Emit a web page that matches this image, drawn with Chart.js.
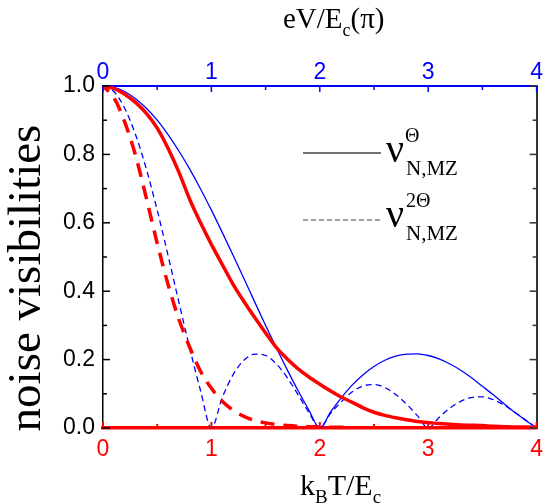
<!DOCTYPE html>
<html>
<head>
<meta charset="utf-8">
<script src="https://cdn.jsdelivr.net/npm/chart.js@4"></script>
<style>
  html, body { margin: 0; padding: 0; background: #fff; }
</style>
</head>
<body>
<canvas id="chart" width="551" height="504"></canvas>
<script>
// x positions (k_B T / E_c, same grid used on the eV/E_c axis)
const xValues = [0, 0.1, 0.2, 0.3, 0.4, 0.5, 0.6, 0.7, 0.8, 0.9,
  1.0, 1.1, 1.2, 1.3, 1.4, 1.5, 1.6, 1.7, 1.8, 1.9,
  2.0, 2.1, 2.2, 2.3, 2.4, 2.5, 2.6, 2.7, 2.8, 2.9,
  3.0, 3.1, 3.2, 3.3, 3.4, 3.5, 3.6, 3.7, 3.8, 3.9, 4.0];

// blue solid: nu^Theta vs eV
const blueSolid = [1, 0.996, 0.984, 0.963, 0.935, 0.900, 0.858, 0.810, 0.757, 0.699,
  0.637, 0.572, 0.505, 0.437, 0.368, 0.300, 0.234, 0.170, 0.109, 0.052,
  0, 0.047, 0.089, 0.126, 0.156, 0.180, 0.198, 0.210, 0.216, 0.217,
  0.212, 0.202, 0.187, 0.169, 0.147, 0.122, 0.097, 0.071, 0.045, 0.022, 0];

// blue dashed: nu^2Theta vs eV
const blueDash = [1, 0.984, 0.935, 0.858, 0.757, 0.637, 0.505, 0.368, 0.234, 0.109,
  0, 0.089, 0.156, 0.198, 0.216, 0.212, 0.187, 0.147, 0.097, 0.045,
  0, 0.043, 0.077, 0.106, 0.123, 0.127, 0.118, 0.098, 0.070, 0.036,
  0, 0.031, 0.058, 0.078, 0.089, 0.091, 0.083, 0.067, 0.046, 0.023, 0];

// red solid: nu^Theta vs temperature
const redSolid = [1, 0.993, 0.976, 0.952, 0.920, 0.877, 0.818, 0.748, 0.668, 0.600,
  0.537, 0.478, 0.420, 0.370, 0.323, 0.278, 0.235, 0.202, 0.173, 0.149,
  0.128, 0.108, 0.090, 0.075, 0.059, 0.046, 0.037, 0.030, 0.024, 0.019,
  0.016, 0.013, 0.011, 0.009, 0.008, 0.007, 0.005, 0.004, 0.003, 0.003, 0.002];

// red dashed: nu^2Theta vs temperature
const redDash = [1, 0.966, 0.895, 0.797, 0.672, 0.540, 0.420, 0.318, 0.236, 0.166,
  0.116, 0.078, 0.052, 0.034, 0.022, 0.015, 0.010, 0.007, 0.005, 0.004,
  0.003, 0.002, 0.002, 0.001, 0.001, 0.001, 0, 0, 0, 0,
  0, 0, 0, 0, 0, 0, 0, 0, 0, 0, 0];

const xTicks = [0, 1, 2, 3, 4];
const yTicks = [0.0, 0.2, 0.4, 0.6, 0.8, 1.0];

const pairs = ys => ys.map((y, i) => ({ x: xValues[i], y: y }));

const SANS = '"Liberation Sans", Arial, sans-serif';
const SERIF = '"Liberation Serif", "Times New Roman", serif';

// inward tick marks, axis titles and the little legend
const decorations = {
  id: 'decorations',
  afterDraw(chart) {
    const ctx = chart.ctx;
    const a = chart.chartArea;
    const xs = chart.scales.x;
    const ys = chart.scales.y;
    ctx.save();

    // x ticks (bottom red, top blue)
    for (let v = 0; v <= 4.001; v += 0.5) {
      const px = xs.getPixelForValue(v);
      const len = Number.isInteger(v) ? 6 : 4;
      ctx.lineWidth = 2;
      ctx.strokeStyle = 'red';
      ctx.beginPath(); ctx.moveTo(px, a.bottom); ctx.lineTo(px, a.bottom - len); ctx.stroke();
      ctx.lineWidth = 1.5;
      ctx.strokeStyle = 'blue';
      ctx.beginPath(); ctx.moveTo(px, a.top); ctx.lineTo(px, a.top + len); ctx.stroke();
    }
    // y ticks (left black, right dark grey)
    for (let i = 0; i <= 10; i++) {
      const v = i / 10;
      const py = ys.getPixelForValue(v);
      const len = i % 2 === 0 ? 7 : 4;
      ctx.lineWidth = 1.5;
      ctx.strokeStyle = '#000';
      ctx.beginPath(); ctx.moveTo(a.left, py); ctx.lineTo(a.left + len, py); ctx.stroke();
      ctx.strokeStyle = '#333';
      ctx.beginPath(); ctx.moveTo(a.right, py); ctx.lineTo(a.right - len, py); ctx.stroke();
    }

    ctx.fillStyle = '#000';
    ctx.textAlign = 'left';
    ctx.textBaseline = 'alphabetic';

    // top title eV/E_c(pi)
    let x = 283;
    ctx.font = '29px ' + SERIF;
    ctx.fillText('eV/E', x, 28); x += ctx.measureText('eV/E').width;
    ctx.font = '18px ' + SERIF;
    ctx.fillText('c', x, 36); x += ctx.measureText('c').width;
    ctx.font = '29px ' + SERIF;
    ctx.fillText('(\u03c0)', x, 28);

    // bottom title k_B T/E_c
    x = 300;
    ctx.font = '30px ' + SERIF;
    ctx.fillText('k', x, 495); x += ctx.measureText('k').width;
    ctx.font = '19px ' + SERIF;
    ctx.fillText('B', x, 503); x += ctx.measureText('B').width;
    ctx.font = '30px ' + SERIF;
    ctx.fillText('T/E', x, 495); x += ctx.measureText('T/E').width;
    ctx.font = '19px ' + SERIF;
    ctx.fillText('c', x, 503);

    // y title
    ctx.save();
    ctx.translate(40, 278);
    ctx.rotate(-Math.PI / 2);
    ctx.font = '47px ' + SERIF;
    ctx.textAlign = 'center';
    ctx.fillText('noise visibilities', 0, 0);
    ctx.restore();

    // legend
    ctx.strokeStyle = '#444';
    ctx.lineWidth = 1.5;
    ctx.beginPath(); ctx.moveTo(303, 153); ctx.lineTo(381, 153); ctx.stroke();
    ctx.setLineDash([5, 3]);
    ctx.lineWidth = 1.2;
    ctx.beginPath(); ctx.moveTo(303, 220); ctx.lineTo(381, 220); ctx.stroke();
    ctx.setLineDash([]);

    ctx.font = '40px ' + SERIF;
    ctx.fillText('\u03bd', 386, 162);
    ctx.fillText('\u03bd', 386, 227);
    ctx.font = '20px ' + SERIF;
    ctx.fillText('\u0398', 405, 142);
    ctx.fillText('2\u0398', 406, 207);
    ctx.font = '21px ' + SERIF;
    ctx.fillText('N,MZ', 406, 175);
    ctx.fillText('N,MZ', 406, 240);

    ctx.restore();
  }
};

new Chart(document.getElementById('chart'), {
  type: 'line',
  data: {
    datasets: [
      { label: 'redSolid', data: pairs(redSolid), borderColor: 'red', borderWidth: 3.5 },
      { label: 'redDash', data: pairs(redDash), borderColor: 'red', borderWidth: 3.5, borderDash: [14, 9], borderDashOffset: 6 },
      { label: 'blueSolid', data: pairs(blueSolid), borderColor: 'blue', borderWidth: 1.3 },
      { label: 'blueDash', data: pairs(blueDash), borderColor: 'blue', borderWidth: 1.3, borderDash: [6, 4] }
    ]
  },
  options: {
    responsive: false,
    animation: false,
    layout: { padding: 0 },
    elements: {
      point: { radius: 0 },
      line: { cubicInterpolationMode: 'monotone', fill: false }
    },
    plugins: {
      legend: { display: false },
      tooltip: { enabled: false }
    },
    scales: {
      x: {
        type: 'linear', position: 'bottom', min: 0, max: 4,
        afterFit: s => { s.height = 76; },
        afterBuildTicks: s => { s.ticks = xTicks.map(v => ({ value: v })); },
        grid: { display: false, drawTicks: false },
        border: { color: 'red', width: 3.5 },
        ticks: { color: 'red', padding: 8, font: { family: SANS, size: 23 }, maxRotation: 0 }
      },
      x2: {
        type: 'linear', position: 'top', min: 0, max: 4,
        afterFit: s => { s.height = 86; },
        afterBuildTicks: s => { s.ticks = xTicks.map(v => ({ value: v })); },
        grid: { display: false, drawTicks: false },
        border: { color: 'blue', width: 2 },
        ticks: { color: 'blue', padding: 0, font: { family: SANS, size: 23 }, maxRotation: 0 }
      },
      y: {
        type: 'linear', position: 'left', min: 0, max: 1,
        afterFit: s => { s.width = 103; },
        afterBuildTicks: s => { s.ticks = yTicks.map(v => ({ value: v })); },
        grid: { display: false, drawTicks: false },
        border: { color: '#000', width: 1.5 },
        ticks: { color: '#000', padding: 8, font: { family: SANS, size: 23 },
                 callback: v => v.toFixed(1) }
      },
      y2: {
        type: 'linear', position: 'right', min: 0, max: 1,
        afterFit: s => { s.width = 9; },
        grid: { display: false, drawTicks: false },
        border: { color: '#333', width: 2 },
        ticks: { display: false }
      }
    }
  },
  plugins: [decorations]
});
</script>
</body>
</html>
